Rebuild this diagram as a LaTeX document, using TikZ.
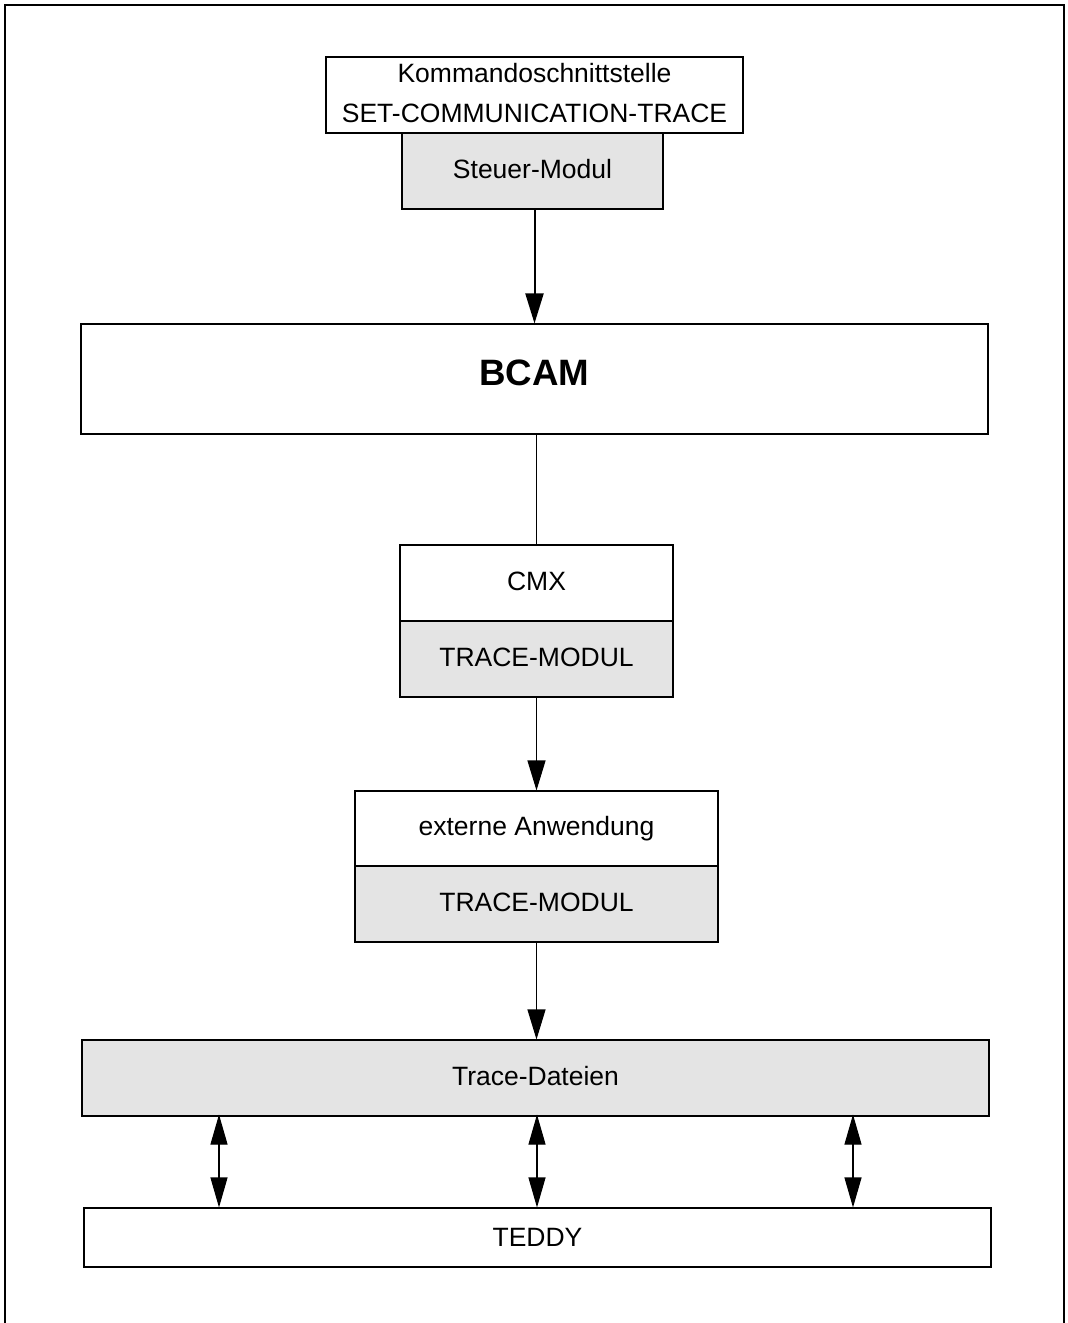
\documentclass[tikz,border=0pt]{standalone}
\usepackage{fontspec}
\setmainfont{Liberation Sans}
\usetikzlibrary{arrows.meta}
\definecolor{boxgray}{HTML}{E4E4E4}
\begin{document}
\begin{tikzpicture}[x=1pt,y=-1pt,
  box/.style={draw=black, line width=1.1pt, rectangle, inner sep=0pt, align=center,
    font=\fontsize{26.5}{40}\selectfont},
  graybox/.style={box, fill=boxgray},
  lowtext/.style={text depth=4pt},
  conn/.style={line width=1.1pt},
  tip/.style={-{Triangle[length=30pt,width=18pt]}, line width=1.1pt},
  dtip/.style={{Triangle[length=30pt,width=17pt]}-{Triangle[length=30pt,width=17pt]}, line width=1.1pt}]
\useasboundingbox (0,0) rectangle (1068,1323);
% outer frame (open at the bottom)
\draw[line width=1.3pt] (5,1323) -- (5,5) -- (1064,5) -- (1064,1323);

\node[box, lowtext, minimum width=417pt, minimum height=76pt] (kom) at (534.5,95)
  {Kommandoschnittstelle\\SET-COMMUNICATION-TRACE};
\node[graybox, lowtext, minimum width=261pt, minimum height=76pt] (steu) at (532.5,171) {Steuer-Modul};
\node[box, text depth=12pt, minimum width=907pt, minimum height=110pt, font=\fontsize{36.7}{44}\selectfont\bfseries] (bcam) at (534.5,379) {BCAM};
\node[box, lowtext, minimum width=273pt, minimum height=76pt] (cmx) at (536.5,583) {CMX};
\node[graybox, lowtext, minimum width=273pt, minimum height=76pt] (cmxt) at (536.5,659) {TRACE-MODUL};
\node[box, minimum width=363pt, minimum height=75pt] (ext) at (536.5,828.5) {externe Anwendung};
\node[graybox, lowtext, minimum width=363pt, minimum height=76pt] (extt) at (536.5,904) {TRACE-MODUL};
\node[graybox, lowtext, minimum width=907pt, minimum height=76pt] (trace) at (535.5,1078) {Trace-Dateien};
\node[box, minimum width=907pt, minimum height=59pt] (teddy) at (537.5,1237.5) {TEDDY};

\draw[tip, line width=2pt] (steu.south -| bcam.north) -- (bcam.north);
\draw[conn] (bcam.south -| cmx.north) -- (cmx.north);
\draw[tip] (cmxt.south) -- (ext.north);
\draw[tip] (extt.south) -- (extt.south |- trace.north);
\draw[dtip] ([xshift=-316.5pt,yshift=2pt]trace.south) -- ([xshift=-316.5pt]trace.south |- teddy.north);
\draw[dtip] ([xshift=1.5pt,yshift=2pt]trace.south) -- ([xshift=1.5pt]trace.south |- teddy.north);
\draw[dtip] ([xshift=317.5pt,yshift=2pt]trace.south) -- ([xshift=317.5pt]trace.south |- teddy.north);
\end{tikzpicture}
\end{document}
